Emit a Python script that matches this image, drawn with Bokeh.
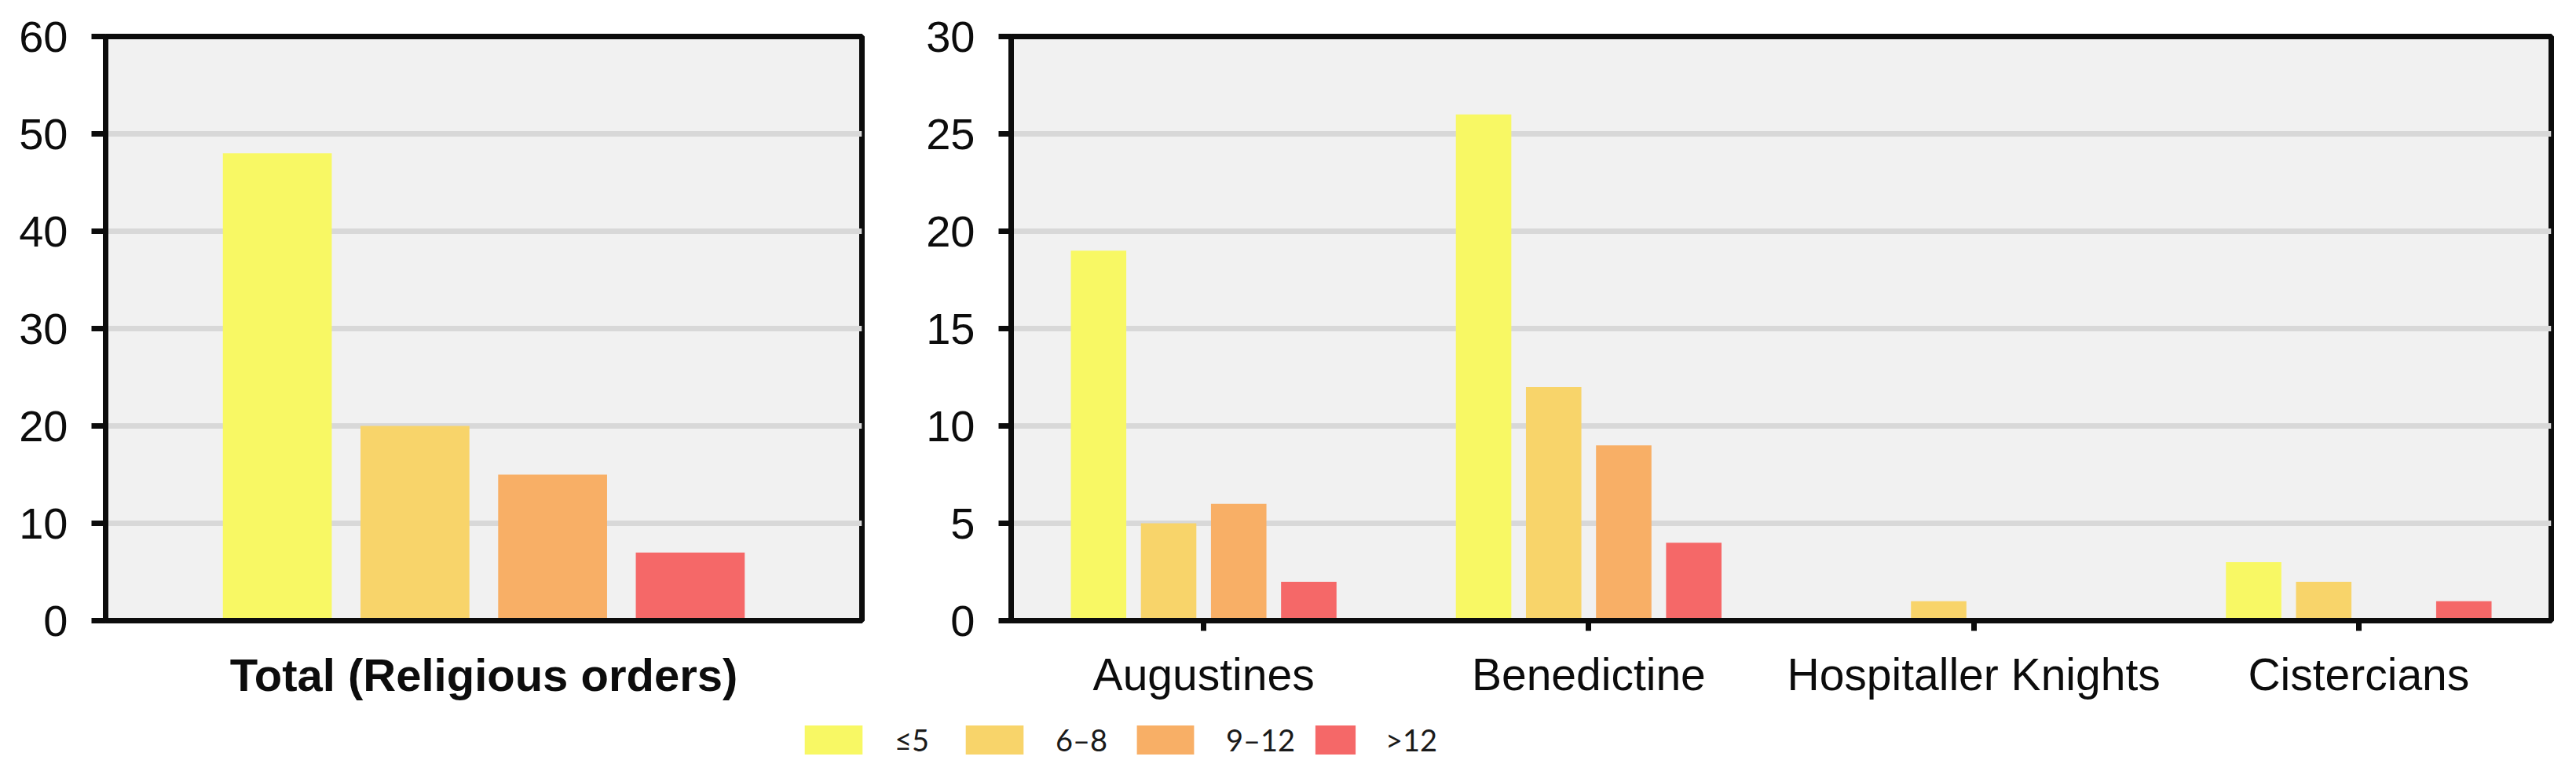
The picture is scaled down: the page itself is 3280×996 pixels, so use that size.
from bokeh.plotting import figure
from bokeh.models import (ColumnDataSource, FactorRange, Range1d, SingleIntervalTicker,
                          Legend, LegendItem)
from bokeh.transform import dodge
from bokeh.layouts import column, row
from bokeh.embed import file_html
from bokeh.resources import INLINE

# ---------------- data ----------------
bins = ["≤5", "6–8", "9–12", ">12"]
bin_keys = ["le5", "b6_8", "b9_12", "gt12"]
bin_colors = ["#F8F864", "#F8D46A", "#F8AF66", "#F56868"]

total_category = ["Total (Religious orders)"]
total_counts = [48, 20, 15, 7]          # one value per size bin

orders = ["Augustines", "Benedictine", "Hospitaller Knights", "Cistercians"]
le5 = [19, 26, 0, 3]
b6_8 = [5, 12, 1, 2]
b9_12 = [6, 9, 0, 0]
gt12 = [2, 4, 0, 1]

left_ticks = 10
left_max = 60
right_ticks = 5
right_max = 30

# ---------------- styling ----------------
FONT = "Liberation Sans"
BG = "#F1F1F1"
GRID = "#D8D8D8"
LW = 7
offsets = [-0.273, -0.091, 0.091, 0.273]
bar_w = 0.144


def style(p, tick_out_y, standoff_y):
    p.background_fill_color = BG
    p.border_fill_color = "white"
    p.outline_line_color = "#0c0c0c"
    p.outline_line_width = LW
    p.xgrid.grid_line_color = None
    p.ygrid.grid_line_color = GRID
    p.ygrid.grid_line_width = LW
    for ax in (p.xaxis[0], p.yaxis[0]):
        ax.axis_line_color = "#0c0c0c"
        ax.axis_line_width = LW
        ax.major_tick_line_color = "#0c0c0c"
        ax.major_tick_line_width = LW
        ax.minor_tick_line_color = None
        ax.major_tick_in = 0
        ax.major_label_text_font = FONT
        ax.major_label_text_color = "#0c0c0c"
    p.yaxis.major_tick_out = tick_out_y
    p.yaxis.major_label_standoff = standoff_y
    p.yaxis.major_label_text_font_size = "56px"
    p.xaxis.major_label_text_font_size = "57px"


# ---------------- left: total ----------------
p1 = figure(width=1172, height=900, x_range=FactorRange(*total_category, range_padding=0),
            y_range=Range1d(0, left_max), toolbar_location=None, output_backend="svg",
            min_border_left=134, min_border_right=75, min_border_top=36, min_border_bottom=110)
src1 = ColumnDataSource(dict(cat=total_category,
                             **{k: [v] for k, v in zip(bin_keys, total_counts)}))
for key, off, col in zip(bin_keys, offsets, bin_colors):
    p1.vbar(x=dodge("cat", off, range=p1.x_range), top=key, width=bar_w,
            source=src1, fill_color=col, line_color=None)
style(p1, 18, 30)
p1.yaxis.ticker = SingleIntervalTicker(interval=left_ticks)
p1.xaxis.major_tick_out = 0
p1.xaxis.major_label_standoff = 36
p1.xaxis.major_label_text_font_style = "bold"
p1.xaxis.major_label_text_font_size = "58px"

# ---------------- right: by order ----------------
p2 = figure(width=2092, height=900, x_range=FactorRange(*orders, range_padding=0),
            y_range=Range1d(0, right_max), toolbar_location=None, output_backend="svg",
            min_border_left=115, min_border_right=16, min_border_top=46, min_border_bottom=110)
src2 = ColumnDataSource(dict(cat=orders, le5=le5, b6_8=b6_8, b9_12=b9_12, gt12=gt12))
for key, off, col in zip(bin_keys, offsets, bin_colors):
    p2.vbar(x=dodge("cat", off, range=p2.x_range), top=key, width=bar_w,
            source=src2, fill_color=col, line_color=None)
style(p2, 16, 30)
p2.yaxis.ticker = SingleIntervalTicker(interval=right_ticks)
p2.xaxis.major_tick_out = 13
p2.xaxis.major_label_standoff = 23

# ---------------- legend strip ----------------
p3 = figure(width=3264, height=80, x_range=(0, 1), y_range=(0, 1), toolbar_location=None,
            output_backend="svg", min_border=0)
p3.axis.visible = False
p3.grid.visible = False
p3.outline_line_color = None
p3.background_fill_color = None
p3.border_fill_color = None

leg_x = [1015, 1220, 1438, 1668]
leg_glyph_w = [92, 92, 91, 64]
for lab, col, lx, gw in zip(bins, bin_colors, leg_x, leg_glyph_w):
    # proxy renderer placed outside the visible range; only its legend swatch shows
    r = p3.vbar(x=[10], top=[1], width=0.1, fill_color=col, line_color=None)
    lg = Legend(items=[LegendItem(label=lab, renderers=[r])], location=(lx, 15),
                orientation="horizontal", glyph_width=gw, glyph_height=46,
                label_standoff=32, padding=0, margin=0, spacing=0,
                border_line_color=None, background_fill_alpha=0,
                label_text_font="Lato", label_text_font_size="38px",
                label_text_color="#1a1a1a")
    p3.add_layout(lg, "center")

layout = column(row(p1, p2), p3)
open("out.html", "w").write(file_html(layout, INLINE))
